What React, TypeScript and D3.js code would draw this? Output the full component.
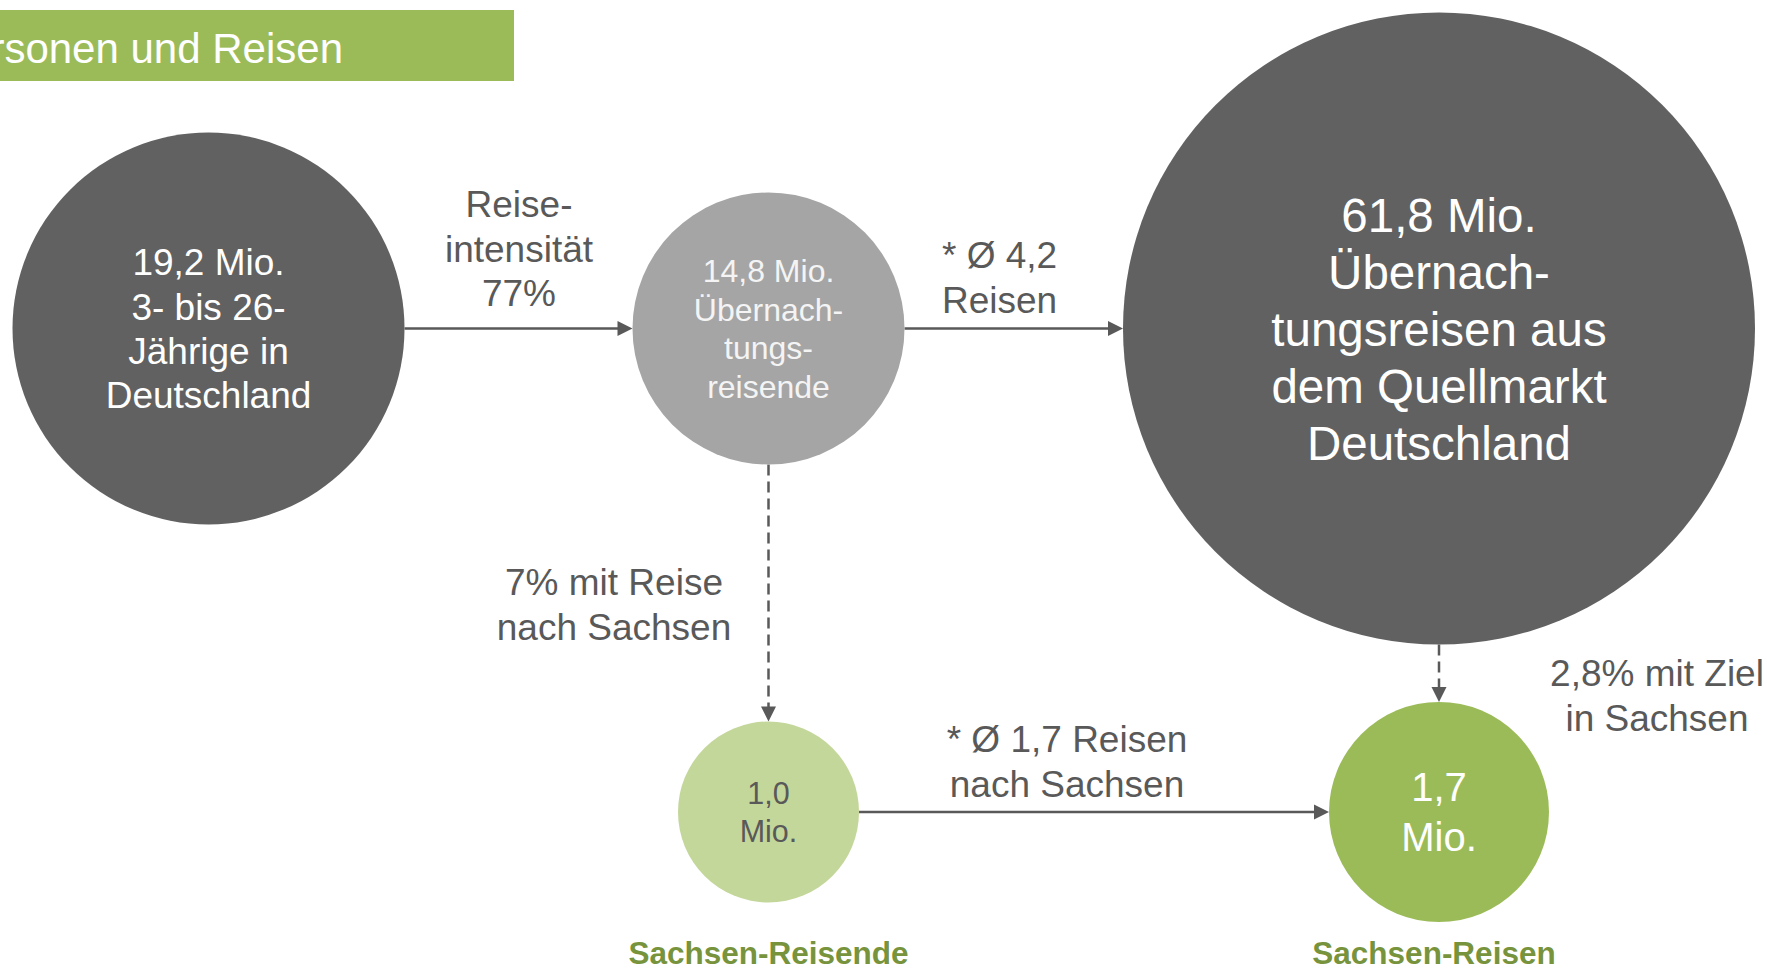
import React from "react";
import * as d3 from "d3";

// values in Mio.
const nodeValues = [19.2, 14.8, 61.8, 1.0, 1.7];
const nodeUnit = ["Mio.", "Mio.", "Mio.", "Mio.", "Mio."];
const nodeCaptions = [
  ["3- bis 26-", "Jährige in", "Deutschland"],
  ["Übernach-", "tungs-", "reisende"],
  ["Übernach-", "tungsreisen aus", "dem Quellmarkt", "Deutschland"],
  [],
  [],
];
const nodeTitles = ["", "", "", "Sachsen-Reisende", "Sachsen-Reisen"];

const edgeSource = [0, 1, 1, 2, 3];
const edgeTarget = [1, 2, 3, 4, 4];
const edgeDashed = [false, false, true, true, false];
const edgeLabels = [
  ["Reise-", "intensität", "77%"],
  ["* Ø 4,2", "Reisen"],
  ["7% mit Reise", "nach Sachsen"],
  ["2,8% mit Ziel", "in Sachsen"],
  ["* Ø 1,7 Reisen", "nach Sachsen"],
];

const headerTitle = "Personen und Reisen";

const W = 1767;
const H = 970;

// layout of the diagram
const nodeCol = [0, 1, 2, 1, 2];
const nodeRow = [0, 0, 0, 1, 1];
const nodeR = [196, 136, 316, 90.5, 110];
const nodeFill = ["#616161", "#a5a5a5", "#616161", "#c4d79b", "#9bbb59"];
const nodeText = ["#ffffff", "#f4f4f4", "#ffffff", "#595959", "#ffffff"];
const nodeFont = [37, 32, 47.5, 30.5, 40];
const nodeLh = [44.3, 38.5, 57, 38, 50];

const xScale = d3.scaleOrdinal<number, number>().domain([0, 1, 2]).range([208.5, 768.5, 1439]);
const yScale = d3.scaleOrdinal<number, number>().domain([0, 1]).range([328.5, 812]);

const labelPos: [number, number, string][] = [
  [519, 217, "middle"],
  [942, 268, "start"],
  [614, 595, "middle"],
  [1657, 686, "middle"],
  [1067, 752, "middle"],
];
const labelLh = 44.5;

const fmt = d3.formatLocale({ decimal: ",", thousands: ".", grouping: [3], currency: ["", " €"] }).format(".1f");

const FONT = "'Liberation Sans', Arial, Helvetica, sans-serif";
const GREY = "#595959";

function App() {
  const nodes = nodeValues.map((v, i) => {
    const lines =
      i < 3 ? [`${fmt(v)} ${nodeUnit[i]}`, ...nodeCaptions[i]] : [fmt(v), nodeUnit[i], ...nodeCaptions[i]];
    return { i, x: xScale(nodeCol[i]), y: yScale(nodeRow[i]), r: nodeR[i], lines };
  });

  const edges = edgeSource.map((s, k) => {
    const a = nodes[s];
    const b = nodes[edgeTarget[k]];
    const dx = b.x - a.x;
    const dy = b.y - a.y;
    const len = Math.hypot(dx, dy);
    const ux = dx / len;
    const uy = dy / len;
    const x1 = a.x + ux * a.r;
    const y1 = a.y + uy * a.r;
    const tx = b.x - ux * b.r;
    const ty = b.y - uy * b.r;
    const head = 15;
    const half = 7.5;
    const bx = tx - ux * head;
    const by = ty - uy * head;
    const p = d3.path();
    p.moveTo(tx, ty);
    p.lineTo(bx - uy * half, by + ux * half);
    p.lineTo(bx + uy * half, by - ux * half);
    p.closePath();
    return { k, x1, y1, x2: tx - ux * 10, y2: ty - uy * 10, head: p.toString(), dashed: edgeDashed[k] };
  });

  return (
    <div style={{ position: "absolute", left: 0, top: 0 }}>
      <svg width={W} height={H} style={{ display: "block", background: "#fff" }} fontFamily={FONT}>
        <rect x={0} y={10} width={514} height={71} fill="#9bbb59" />
        <text x={343} y={63} textAnchor="end" fontSize={42} fill="#fff">
          {headerTitle}
        </text>

        {edges.map((e) => (
          <g key={e.k}>
            <line
              x1={e.x1}
              y1={e.y1}
              x2={e.x2}
              y2={e.y2}
              stroke={GREY}
              strokeWidth={2.5}
              strokeDasharray={e.dashed ? "11 6" : undefined}
            />
            <path d={e.head} fill={GREY} />
          </g>
        ))}

        {nodes.map((n) => {
          const fs = nodeFont[n.i];
          const lh = nodeLh[n.i];
          const cnt = n.lines.length;
          const y0 = n.y - ((cnt - 1) / 2) * lh + fs * 0.358;
          return (
            <g key={n.i}>
              <circle cx={n.x} cy={n.y} r={n.r} fill={nodeFill[n.i]} />
              <text textAnchor="middle" fontSize={fs} fill={nodeText[n.i]}>
                {n.lines.map((l, j) => (
                  <tspan key={j} x={n.x} y={y0 + j * lh}>
                    {l}
                  </tspan>
                ))}
              </text>
            </g>
          );
        })}

        {edgeLabels.map((lines, k) => (
          <text key={k} textAnchor={labelPos[k][2]} fontSize={37} fill={GREY}>
            {lines.map((l, j) => (
              <tspan key={j} x={labelPos[k][0]} y={labelPos[k][1] + j * labelLh}>
                {l}
              </tspan>
            ))}
          </text>
        ))}

        {nodes
          .filter((n) => nodeTitles[n.i])
          .map((n) => (
            <text
              key={n.i}
              x={n.x - (n.i === 4 ? 5 : 0)}
              y={964}
              textAnchor="middle"
              fontSize={31.5}
              fontWeight="bold"
              fill="#77933c"
            >
              {nodeTitles[n.i]}
            </text>
          ))}
      </svg>
    </div>
  );
}

export default App;
